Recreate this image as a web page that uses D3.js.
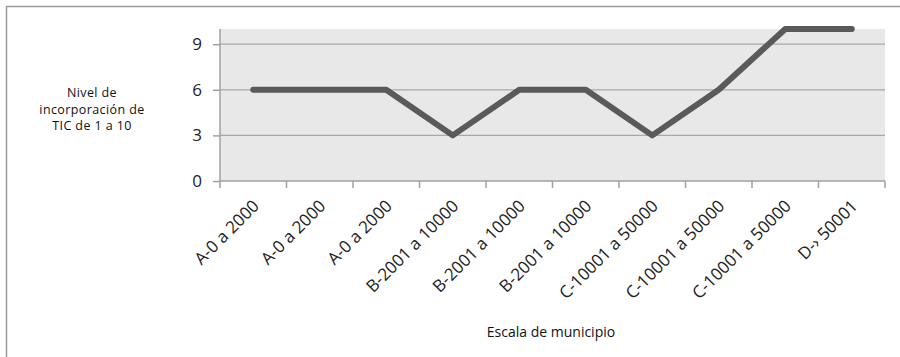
<!DOCTYPE html>
<html><head><meta charset="utf-8">
<script src="https://cdn.jsdelivr.net/npm/d3@7"></script>
<style>html,body{margin:0;padding:0;background:#fff;}svg{display:block;}</style>
</head><body>
<svg id="c" width="900" height="357"></svg>
<script>
const categories = ["A-0 a 2000","A-0 a 2000","A-0 a 2000","B-2001 a 10000","B-2001 a 10000","B-2001 a 10000","C-10001 a 50000","C-10001 a 50000","C-10001 a 50000","D-\u203A 50001"];
const values = [6,6,6,3,6,6,3,6,10,10];
const yTicks = [0,3,6,9];
const yTitle = ["Nivel de","incorporación de","TIC de 1 a 10"];
const xTitle = "Escala de municipio";

const svg = d3.select("#c");
const font = "'Open Sans', sans-serif";
const L = 220, R = 885, T = 29, B = 181;

svg.append("rect").attr("x",6.5).attr("y",6.5).attr("width",1000).attr("height",1000)
  .attr("fill","#fff").attr("stroke","#9a9a9a").attr("stroke-width",1.5);

const x = d3.scaleBand().domain(d3.range(categories.length)).range([L,R]).padding(0);
const y = d3.scaleLinear().domain([0,10]).range([B,T]);

svg.append("rect").attr("x",L).attr("y",T).attr("width",R-L).attr("height",B-T).attr("fill","#e8e8e8");

// gridlines
svg.append("g").selectAll("line").data(yTicks.filter(d=>d>0)).join("line")
  .attr("x1",L).attr("x2",R).attr("y1",d=>y(d)).attr("y2",d=>y(d))
  .attr("stroke","#a8a8a8").attr("stroke-width",1.2);

// y axis
const ya = svg.append("g").attr("transform",`translate(${L},0)`)
  .call(d3.axisLeft(y).tickValues(yTicks).tickSize(7).tickPadding(11).tickFormat(d3.format("d")));
ya.select(".domain").attr("d",`M0,${T}V${B}`).attr("stroke","#a0a0a0").attr("stroke-width",1.5);
ya.selectAll(".tick line").attr("stroke","#a0a0a0").attr("stroke-width",1.5);
ya.selectAll(".tick text").attr("font-family",font).attr("font-size",17).attr("fill","#222");

// x axis
const bounds = d3.range(categories.length+1).map(i => L + i*x.bandwidth());
svg.append("line").attr("x1",L).attr("x2",R).attr("y1",B).attr("y2",B).attr("stroke","#a0a0a0").attr("stroke-width",1.5);
svg.append("g").selectAll("line").data(bounds).join("line")
  .attr("x1",d=>d).attr("x2",d=>d).attr("y1",B).attr("y2",B+7)
  .attr("stroke","#a0a0a0").attr("stroke-width",1.5);

svg.append("g").selectAll("text").data(categories).join("text")
  .attr("transform",(d,i)=>`translate(${x(i)+x.bandwidth()/2+7},${B+26}) rotate(-45)`)
  .attr("text-anchor","end").attr("font-family",font).attr("font-size",17).attr("fill","#222")
  .text(d=>d);

// line
const line = d3.line().x((d,i)=>x(i)+x.bandwidth()/2).y(d=>y(d));
svg.append("path").datum(values).attr("d",line).attr("fill","none")
  .attr("stroke","#5a5a5a").attr("stroke-width",6).attr("stroke-linecap","round").attr("stroke-linejoin","round");

// titles
svg.append("g").selectAll("text").data(yTitle).join("text")
  .attr("x",92).attr("y",(d,i)=>97+i*16.5).attr("text-anchor","middle")
  .attr("font-family",font).attr("font-size",12.5).attr("letter-spacing",0.4).attr("fill","#111")
  .text(d=>d);
svg.append("text").attr("x",551).attr("y",337).attr("text-anchor","middle")
  .attr("font-family",font).attr("font-size",14).attr("fill","#111").text(xTitle);
</script>
</body></html>
